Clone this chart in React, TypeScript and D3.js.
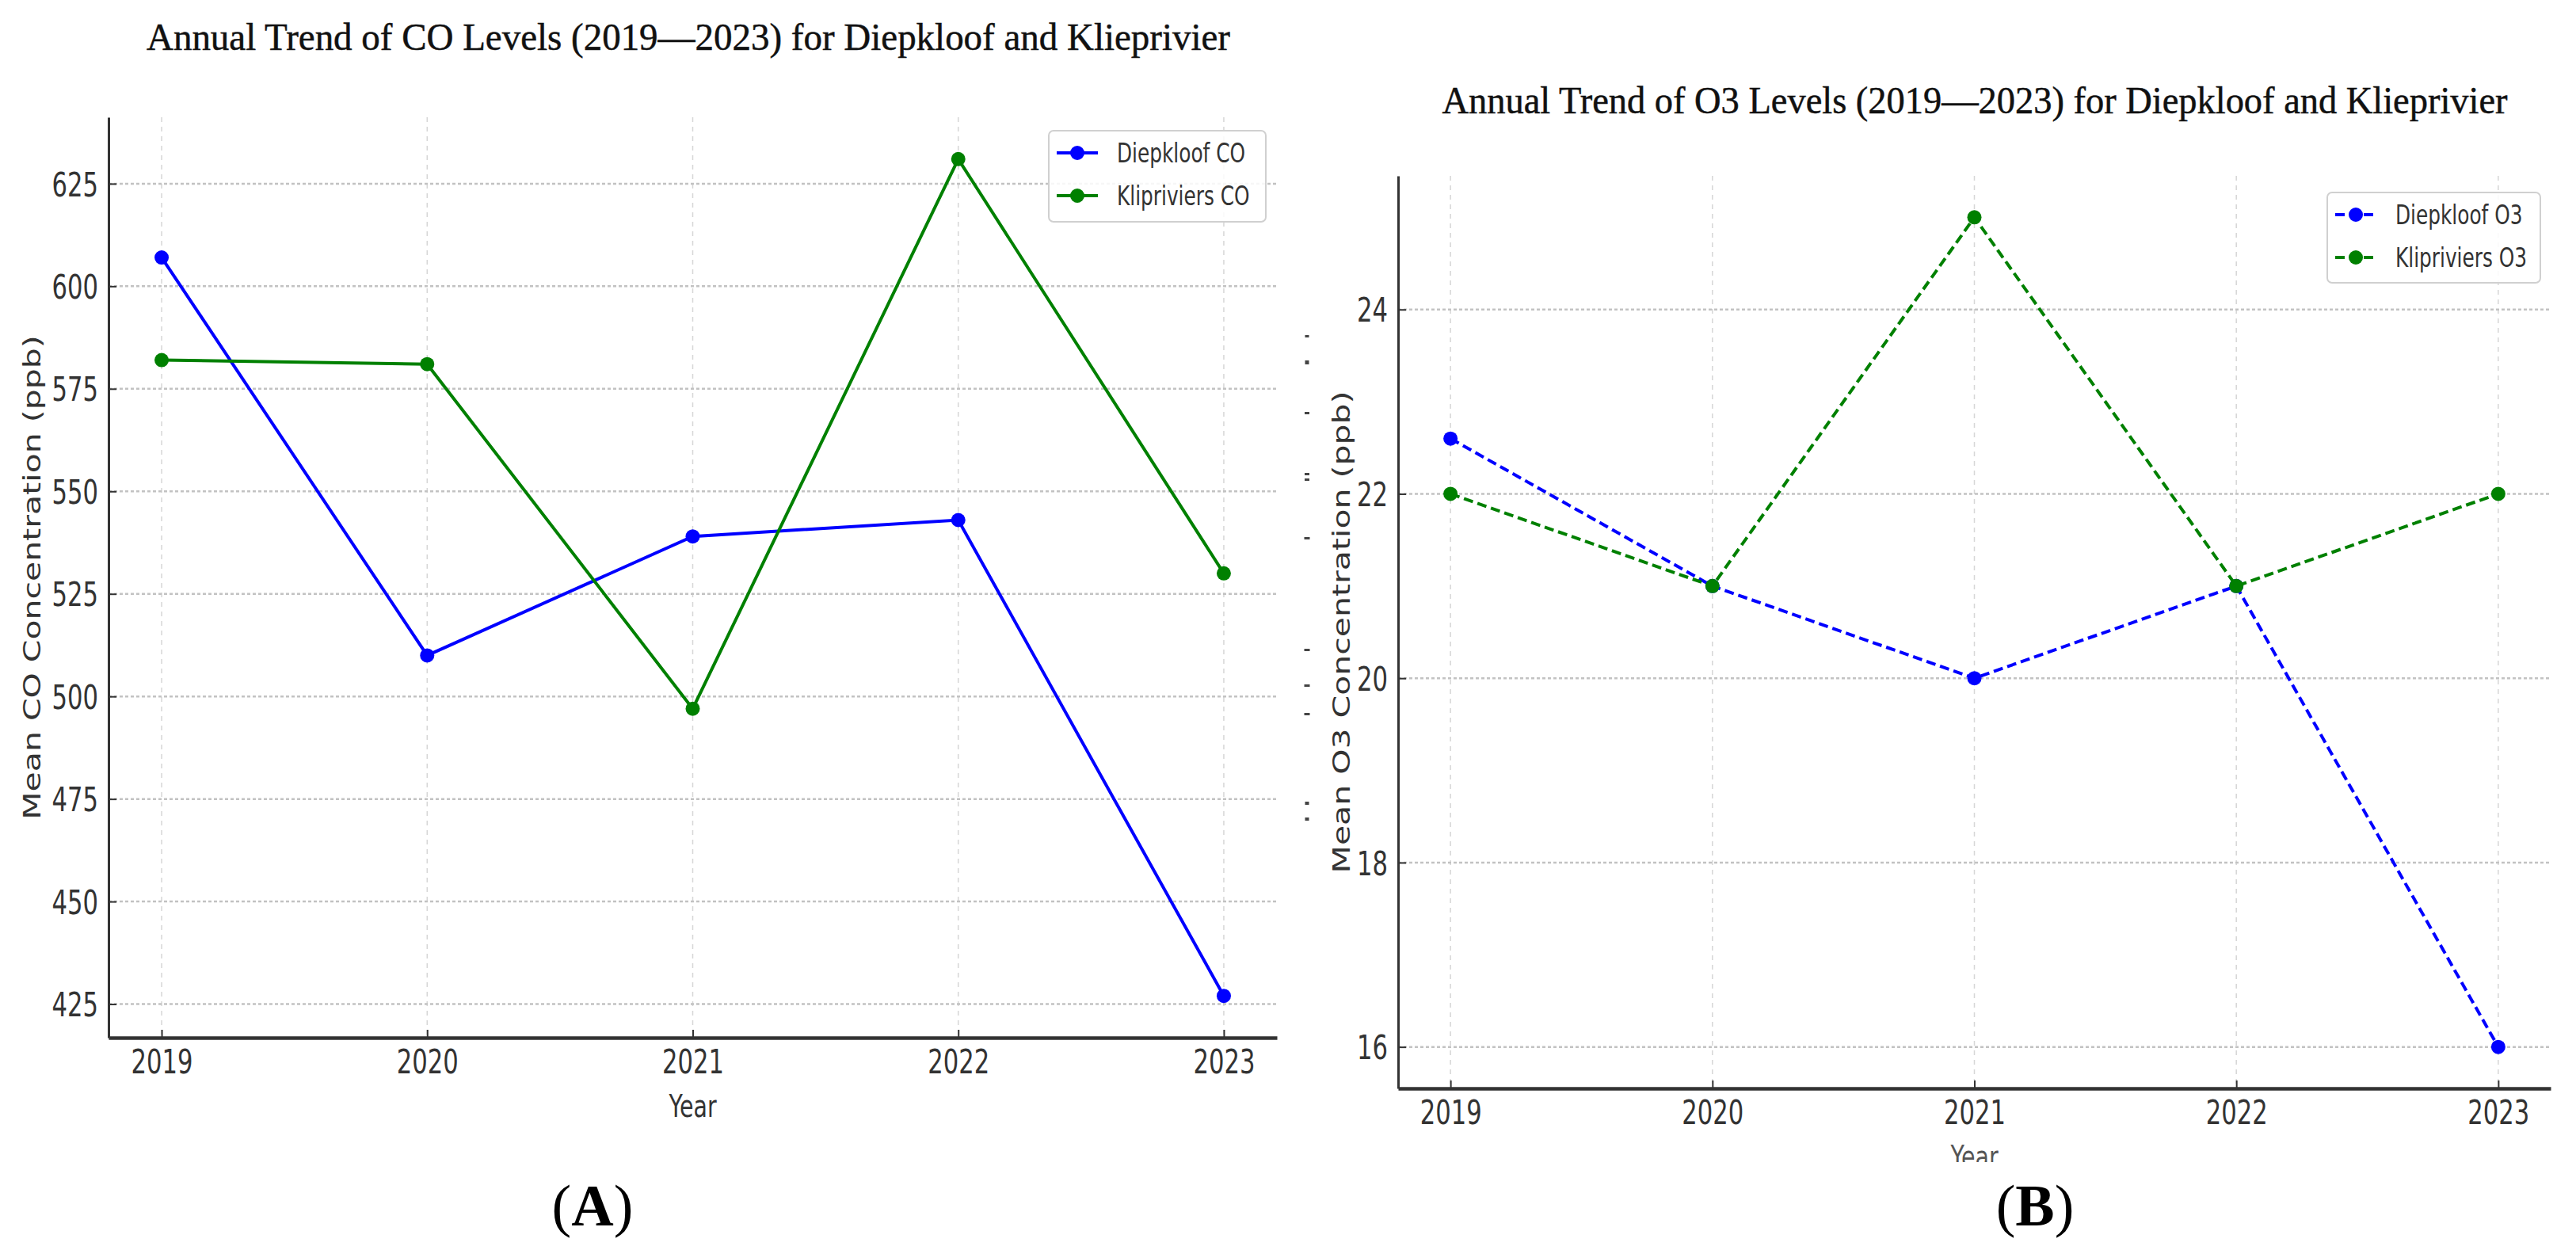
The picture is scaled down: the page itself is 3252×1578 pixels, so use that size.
import React, { useEffect, useRef } from "react";
import * as d3 from "d3";

const years = [2019, 2020, 2021, 2022, 2023];
const diepkloofCO = [607, 510, 539, 543, 427];
const klipriviersCO = [582, 581, 497, 631, 530];
const diepkloofO3 = [22.6, 21.0, 20.0, 21.0, 16.0];
const klipriviersO3 = [22.0, 21.0, 25.0, 21.0, 22.0];
const coTicks = [425, 450, 475, 500, 525, 550, 575, 600, 625];
const o3Ticks = [16, 18, 20, 22, 24];
const coNames = ["Diepkloof CO", "Klipriviers CO"];
const o3Names = ["Diepkloof O3", "Klipriviers O3"];
const seriesColors = ["#0000ff", "#008000"];

const SX = 0.73; // the source figure is squeezed horizontally
const SANS = "DejaVu Sans";
const SERIF = "Liberation Serif";

type Panel = {
  left: number; right: number; top: number; bottom: number;
  series: number[][]; names: string[]; ticks: number[]; dashed: boolean;
  title: string; titleX: number; titleY: number; titleLen: number;
  yLabel: string; yLabelX: number; letter: string; letterX: number;
  legend: { x: number; y: number; w: number; h: number };
  yearClip?: number;
};

function drawPanel(svg: d3.Selection<SVGSVGElement, unknown, null, undefined>, p: Panel, id: string) {
  const x = d3.scaleLinear().domain([years[0] - 0.2, years[years.length - 1] + 0.2]).range([p.left, p.right]);
  const all = p.series.flat();
  const lo = d3.min(all) as number, hi = d3.max(all) as number;
  const pad = (hi - lo) * 0.05;
  const y = d3.scaleLinear().domain([lo - pad, hi + pad]).range([p.bottom, p.top]);

  const g = svg.append("g");

  // grid
  g.append("g").selectAll("line").data(years).join("line")
    .attr("x1", d => x(d)).attr("x2", d => x(d))
    .attr("y1", p.top).attr("y2", p.bottom)
    .attr("stroke", "#d6d6d6").attr("stroke-width", 1.5).attr("stroke-dasharray", "6,6");
  g.append("g").selectAll("line").data(p.ticks).join("line")
    .attr("x1", p.left).attr("x2", p.right)
    .attr("y1", d => y(d)).attr("y2", d => y(d))
    .attr("stroke", "#c2c2c2").attr("stroke-width", 2.5).attr("stroke-dasharray", "4,3");

  // axes
  const yAxis = g.append("g").attr("transform", `translate(${p.left},0)`)
    .call(d3.axisLeft(y).tickValues(p.ticks).tickFormat(d3.format("d")).tickSizeInner(-10).tickSizeOuter(0).tickPadding(13));
  yAxis.select(".domain").attr("stroke", "#333").attr("stroke-width", 3);
  yAxis.selectAll(".tick line").attr("stroke", "#333").attr("stroke-width", 2);
  yAxis.selectAll(".tick text")
    .attr("transform", `scale(${SX},1)`).attr("x", -13 / SX).attr("dy", "0.36em")
    .attr("font-size", 42).attr("font-family", SANS).attr("fill", "#333");

  const xAxis = g.append("g").attr("transform", `translate(0,${p.bottom})`)
    .call(d3.axisBottom(x).tickValues(years).tickFormat(d3.format("d")).tickSizeInner(-10).tickSizeOuter(0).tickPadding(13));
  xAxis.select(".domain").attr("stroke", "#333").attr("stroke-width", 4.5);
  xAxis.selectAll(".tick line").attr("stroke", "#333").attr("stroke-width", 2);
  xAxis.selectAll(".tick text")
    .attr("transform", `scale(${SX},1)`).attr("y", 45).attr("dy", 0)
    .attr("font-size", 42).attr("font-family", SANS).attr("fill", "#333");

  // series
  const line = d3.line<number>().x((_, i) => x(years[i])).y(d => y(d));
  p.series.forEach((vals, si) => {
    g.append("path").datum(vals).attr("d", line)
      .attr("fill", "none").attr("stroke", seriesColors[si]).attr("stroke-width", 4)
      .attr("stroke-dasharray", p.dashed ? "12,6" : null);
    g.append("g").selectAll("circle").data(vals).join("circle")
      .attr("cx", (_, i) => x(years[i])).attr("cy", d => y(d)).attr("r", 9)
      .attr("fill", seriesColors[si]);
  });

  // legend
  const L = p.legend;
  const lg = g.append("g").attr("transform", `translate(${L.x},${L.y})`);
  lg.append("rect").attr("width", L.w).attr("height", L.h).attr("rx", 6)
    .attr("fill", "white").attr("fill-opacity", 0.85).attr("stroke", "#d0d0d0").attr("stroke-width", 2);
  p.names.forEach((name, i) => {
    const ry = 28 + i * 54;
    lg.append("line").attr("x1", 10).attr("x2", 62).attr("y1", ry).attr("y2", ry)
      .attr("stroke", seriesColors[i]).attr("stroke-width", 4)
      .attr("stroke-dasharray", p.dashed ? "12,6" : null);
    lg.append("circle").attr("cx", 36).attr("cy", ry).attr("r", 9).attr("fill", seriesColors[i]);
    lg.append("text").attr("transform", `translate(86,${ry + 12}) scale(${SX},1)`)
      .attr("font-size", 34).attr("font-family", SANS).attr("fill", "#333").text(name);
  });

  // labels
  g.append("text")
    .attr("transform", `translate(${p.yLabelX},${(p.top + p.bottom) / 2}) scale(${SX},1) rotate(-90)`)
    .attr("text-anchor", "middle").attr("font-size", 41).attr("font-family", SANS).attr("fill", "#333")
    .text(p.yLabel);

  const yearWrap = g.append("g");
  yearWrap.append("text")
    .attr("transform", `translate(${(p.left + p.right) / 2},${p.bottom + 100}) scale(${SX},1)`)
    .attr("text-anchor", "middle").attr("font-size", 39).attr("font-family", SANS)
    .attr("fill", p.yearClip ? "#555" : "#333")
    .text("Year");
  if (p.yearClip) {
    svg.append("defs").append("clipPath").attr("id", id)
      .append("rect").attr("x", p.left).attr("y", p.bottom).attr("width", p.right - p.left).attr("height", p.yearClip - p.bottom);
    yearWrap.attr("clip-path", `url(#${id})`);
  }

  g.append("text").attr("x", p.titleX).attr("y", p.titleY)
    .attr("text-anchor", "middle").attr("font-size", 48).attr("font-family", SERIF).attr("fill", "#111")
    .attr("stroke", "#111").attr("stroke-width", 0.5)
    .attr("textLength", p.titleLen).attr("lengthAdjust", "spacingAndGlyphs")
    .text(p.title);

  // panel letter: plain parentheses round a bold capital
  const letter = g.append("text").attr("x", p.letterX).attr("y", 1547)
    .attr("text-anchor", "middle").attr("font-size", 74).attr("font-family", SERIF).attr("fill", "#000");
  letter.append("tspan").text("(");
  letter.append("tspan").attr("font-weight", "bold").text(p.letter);
  letter.append("tspan").text(")");
}

export default function App() {
  const svgRef = useRef<SVGSVGElement | null>(null);

  useEffect(() => {
    if (!svgRef.current) return;
    const svg = d3.select(svgRef.current);
    svg.selectAll("*").remove();

    drawPanel(svg, {
      left: 137, right: 1612, top: 148, bottom: 1310,
      series: [diepkloofCO, klipriviersCO], names: coNames, ticks: coTicks, dashed: false,
      title: "Annual Trend of CO Levels (2019\u20142023) for Diepkloof and Klieprivier",
      titleX: 869, titleY: 63, titleLen: 1368,
      yLabel: "Mean CO Concentration (ppb)", yLabelX: 51,
      letter: "A", letterX: 748,
      legend: { x: 1324, y: 165, w: 274, h: 115 },
    }, "clipA");

    drawPanel(svg, {
      left: 1765, right: 3220, top: 222, bottom: 1374,
      series: [diepkloofO3, klipriviersO3], names: o3Names, ticks: o3Ticks, dashed: true,
      title: "Annual Trend of O3 Levels (2019\u20142023) for Diepkloof and Klieprivier",
      titleX: 2493, titleY: 143, titleLen: 1345,
      yLabel: "Mean O3 Concentration (ppb)", yLabelX: 1704,
      letter: "B", letterX: 2569,
      legend: { x: 2938, y: 243, w: 269, h: 114 },
      yearClip: 1467,
    }, "clipB");

    // leftover fragments of an older axis label beside panel B
    const ghost = [[423, 5, 3], [455, 5, 5], [520, 6, 3], [597, 6, 3], [604, 6, 3], [678, 7, 3], [819, 7, 3], [864, 7, 3], [900, 7, 3], [1012, 5, 4], [1032, 5, 4]];
    svg.append("g").selectAll("rect").data(ghost).join("rect")
      .attr("x", d => 1650 - d[1] / 2).attr("y", d => d[0]).attr("width", d => d[1]).attr("height", d => d[2])
      .attr("fill", "#444");
  }, []);

  return (
    <svg ref={svgRef} width={3252} height={1578}
      style={{ position: "absolute", left: 0, top: 0, background: "white" }} />
  );
}
